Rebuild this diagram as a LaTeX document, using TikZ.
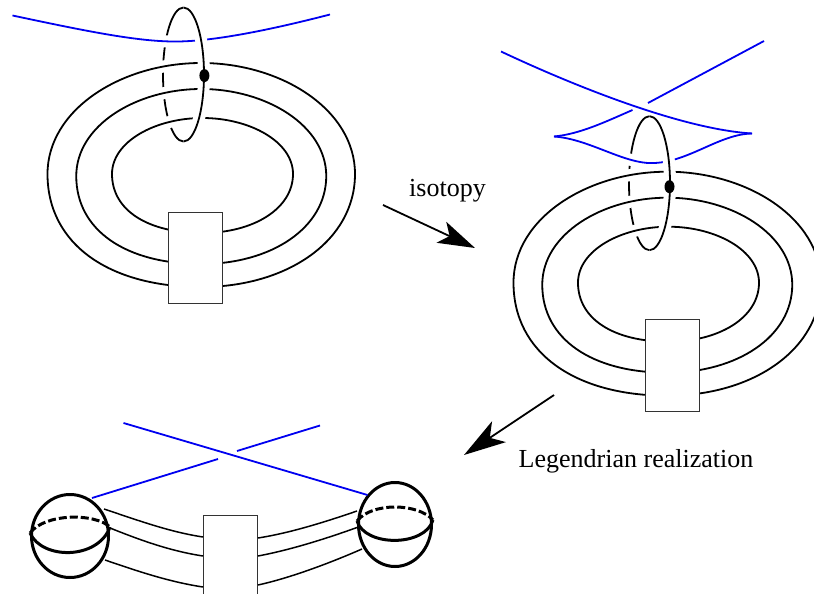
\documentclass[tikz,border=0pt]{standalone}
\usepackage{fontspec}
\setmainfont{Liberation Serif}
\usetikzlibrary{arrows.meta,shapes.geometric}
\definecolor{legblue}{RGB}{0,0,240}
\tikzstyle{strand}=[
  line width=1.8pt,black
]
\tikzstyle{cased}=[
  preaction={draw,white,line width=12pt}
]
\tikzstyle{legendrian}=[
  line width=1.8pt,legblue
]
\tikzstyle{thinstrand}=[
  line width=1.5pt,black
]
\tikzstyle{ballline}=[
  line width=3pt,black
]
\tikzstyle{boxnode}=[
  draw=black!80,fill=white,line width=0.8pt,inner sep=0pt,minimum width=54pt
]
\tikzstyle{dotnode}=[
  ellipse,fill=black,inner sep=0pt,minimum width=10pt,minimum height=13pt
]
\tikzstyle{isoarrow}=[
  line width=1.8pt,-{Stealth[length=37pt,width=23pt,inset=9pt]}
]
\tikzstyle{legarrow}=[
  line width=1.8pt,-{Stealth[length=42pt,width=25pt,inset=11pt]}
]
\tikzstyle{lbl}=[
  font=\fontsize{26}{28}\selectfont,inner sep=0pt
]
% centre x, centre y, half width, upper and lower height
\newcommand{\ringpath}[5]{
  \draw [strand,cased] (#1-#3,#2)
    .. controls (#1-#3,#2-0.58*#4) and (#1-0.52*#3,#2-#4) .. (#1,#2-#4)
    .. controls (#1+0.52*#3,#2-#4) and (#1+#3,#2-0.58*#4) .. (#1+#3,#2)
    .. controls (#1+#3,#2+0.59*#5) and (#1+0.56*#3,#2+#5) .. (#1,#2+#5)
    .. controls (#1-0.6*#3,#2+#5) and (#1-#3,#2+0.62*#5) .. (#1-#3,#2);
}
\newcommand{\ringset}[4]{
  \begin{scope}[shift={#2}]
    \draw [strand] (183.5,7.5) arc[start angle=90,end angle=270,x radius=20.5pt,y radius=67pt];
  \end{scope}
  \draw [legendrian,cased] #4;
  \begin{scope}[shift={#2}]
    \ringpath{201.25}{174}{153.75}{111}{113}
    \ringpath{201.25}{176}{125}{87}{88}
    \ringpath{202.5}{174}{90.5}{56}{59}
  \end{scope}
  \node (#1) at #3 [boxnode,minimum height=91.5pt] {};
  \begin{scope}[shift={#2}]
    \draw [strand,cased] (183.5,7.5) arc[start angle=90,end angle=-90,x radius=20.5pt,y radius=67pt];
  \end{scope}
}

\begin{document}
\begin{tikzpicture}[x=1pt,y=-1pt]
  \useasboundingbox (0,0) rectangle (814,594);

  % first ring
  \ringset{boxa}{(0,0)}{(195.5,257.75)}{(12.5,15.5) .. controls (90,32) and (140,42) .. (178,41.5) .. controls (215,41) and (270,30) .. (330,14.5)}
  \node (dota) at (204.4,75.6) [dotnode] {};

  % second ring
  \ringset{boxb}{(466,108.7)}{(672.2,365.5)}{(554,136.5) .. controls (590,139) and (625,165) .. (655,163) .. controls (690,161) and (720,134) .. (752,133.5)}
  \node (dotb) at (669.5,186.7) [dotnode] {};
  \draw [legendrian] (764,41) -- (648,103);
  \draw [legendrian] (632.5,110) .. controls (605,122) and (580,134) .. (554,136.5);
  \draw [legendrian] (501,51.5) .. controls (570,84) and (680,129) .. (752,133.5);

  % arrows
  \coordinate (isoa) at (383,205);
  \coordinate (isob) at (475,248);
  \draw [isoarrow] (isoa) -- (isob);
  \node (isolbl) at (447.5,191) [lbl] {isotopy};
  \coordinate (lega) at (554,395);
  \coordinate (legb) at (464,455);
  \draw [legarrow] (lega) -- (legb);
  \node (leglbl) at (636,461) [lbl] {Legendrian realization};

  % bottom part
  \node (boxc) at (230.2,561) [boxnode,minimum height=90.5pt] {};
  \node (balla) at (70,536) [ellipse,draw,ballline,inner sep=0pt,minimum width=77pt,minimum height=83pt] {};
  \node (ballb) at (395,524.5) [ellipse,draw,ballline,inner sep=0pt,minimum width=73pt,minimum height=84pt] {};
  \draw [thinstrand] (104,509) .. controls (140,521) and (170,532) .. (203,537);
  \draw [thinstrand] (110,528) .. controls (140,540) and (170,551) .. (203,556);
  \draw [thinstrand] (105,560) .. controls (140,572) and (170,582) .. (203,587);
  \draw [thinstrand] (258,538) .. controls (290,533) and (325,522) .. (357,511);
  \draw [thinstrand] (258,556) .. controls (290,550) and (325,539) .. (357,527.5);
  \draw [thinstrand] (258,585) .. controls (290,578) and (330,563) .. (362,549);
  \draw [ballline] (30,533) .. controls (42,560) and (98,560) .. (110,527);
  \draw [ballline,dash pattern=on 8pt off 3pt] (30,533) .. controls (45,513) and (95,513) .. (110,527);
  \draw [ballline] (357,521) .. controls (365,547) and (425,547) .. (433,520);
  \draw [ballline,dash pattern=on 8pt off 3pt] (357,521) .. controls (372,502) and (418,503) .. (433,520);
  \draw [legendrian] (123.5,423) -- (367.5,495);
  \draw [legendrian] (320,425.5) -- (237,451);
  \draw [legendrian] (218,459) -- (92,498);
\end{tikzpicture}
\end{document}
